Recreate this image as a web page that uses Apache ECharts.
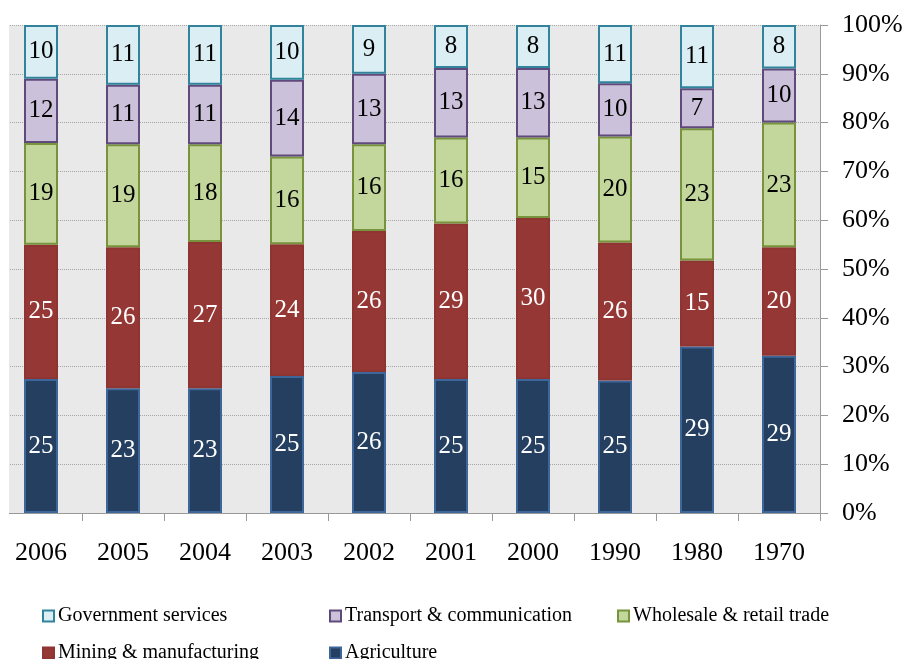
<!DOCTYPE html>
<html>
<head>
<meta charset="utf-8">
<script src="https://cdn.jsdelivr.net/npm/echarts@6/dist/echarts.min.js"></script>
<style>
  html, body { margin: 0; padding: 0; background: #fff; }
  #main { width: 909px; height: 659px; }
</style>
</head>
<body>
<div id="main"></div>
<script>
const years = ["2006", "2005", "2004", "2003", "2002", "2001", "2000", "1990", "1980", "1970"];
const agriculture = [25, 23, 23, 25, 26, 25, 25, 25, 29, 29];
const mining = [25, 26, 27, 24, 26, 29, 30, 26, 15, 20];
const wholesale = [19, 19, 18, 16, 16, 16, 15, 20, 23, 23];
const transport = [12, 11, 11, 14, 13, 13, 13, 10, 7, 10];
const government = [10, 11, 11, 10, 9, 8, 8, 11, 11, 8];
const yTicks = ["0%", "10%", "20%", "30%", "40%", "50%", "60%", "70%", "80%", "90%", "100%"];

const font = "'Liberation Serif', 'Times New Roman', serif";

// each column is shown as 100%, so turn raw values into shares of the column total
const totals = years.map((y, i) =>
  agriculture[i] + mining[i] + wholesale[i] + transport[i] + government[i]);
function share(arr) {
  return arr.map((v, i) => ({ value: v / totals[i] * 100, raw: v }));
}

function makeSeries(name, arr, fill, border, labelColor) {
  return {
    name: name,
    type: "bar",
    stack: "total",
    barWidth: 34,
    data: share(arr),
    itemStyle: { color: fill, borderColor: border, borderWidth: 2 },
    label: {
      show: true,
      position: "inside",
      color: labelColor,
      fontFamily: font,
      fontSize: 25,
      formatter: (p) => p.data.raw,
    },
    emphasis: { disabled: true },
  };
}

function legendAt(name, left, top) {
  return {
    data: [name],
    left: left,
    top: top,
    orient: "horizontal",
    icon: "rect",
    itemWidth: 11,
    itemHeight: 11,
    itemGap: 4,
    selectedMode: false,
    textStyle: { fontFamily: font, fontSize: 20, color: "#000", padding: [0, 0, 0, -1] },
  };
}

const myChart = echarts.init(document.getElementById("main"));
let option = {
  animation: false,
  backgroundColor: "#fff",
  grid: {
    left: 0,
    right: 89,
    top: 25,
    bottom: 146,
    show: true,
    backgroundColor: "#e9e9e9",
    borderWidth: 0,
  },
  // the plot area is cut off on the left in the original, leave a white strip
  graphic: [
    {
      type: "rect",
      left: 0,
      top: 20,
      z: 100,
      shape: { width: 9, height: 510 },
      style: { fill: "#fff" },
    },
  ],
  legend: [
    legendAt("Government services", 37, 601),
    legendAt("Transport & communication", 324, 601),
    legendAt("Wholesale & retail trade", 612, 601),
    legendAt("Mining & manufacturing", 37, 638),
    legendAt("Agriculture", 324, 638),
  ],
  xAxis: {
    type: "category",
    data: years,
    axisLine: { lineStyle: { color: "#999", width: 1 } },
    axisTick: { show: true, length: 8, lineStyle: { color: "#999" } },
    axisLabel: { fontFamily: font, fontSize: 26, color: "#000", margin: 27 },
  },
  yAxis: {
    type: "value",
    position: "right",
    min: 0,
    max: 100,
    interval: 10,
    axisLine: { show: true, lineStyle: { color: "#999" } },
    axisTick: { show: true, length: 8, lineStyle: { color: "#999" } },
    splitLine: { lineStyle: { color: "#a6a6a6", type: "dotted" } },
    axisLabel: {
      fontFamily: font,
      fontSize: 26,
      color: "#000",
      margin: 22,
      formatter: (v) => yTicks[Math.round(v / 10)],
    },
  },
  series: [
    makeSeries("Agriculture", agriculture, "#243f60", "#3d679a", "#fff"),
    makeSeries("Mining & manufacturing", mining, "#953735", "#8e3533", "#fff"),
    makeSeries("Wholesale & retail trade", wholesale, "#c3d69b", "#77933c", "#000"),
    makeSeries("Transport & communication", transport, "#ccc1da", "#604a7b", "#000"),
    makeSeries("Government services", government, "#dbeef4", "#31849b", "#000"),
  ],
};

option && myChart.setOption(option);

window.addEventListener("resize", function () {
  myChart.resize();
});
</script>
</body>
</html>
